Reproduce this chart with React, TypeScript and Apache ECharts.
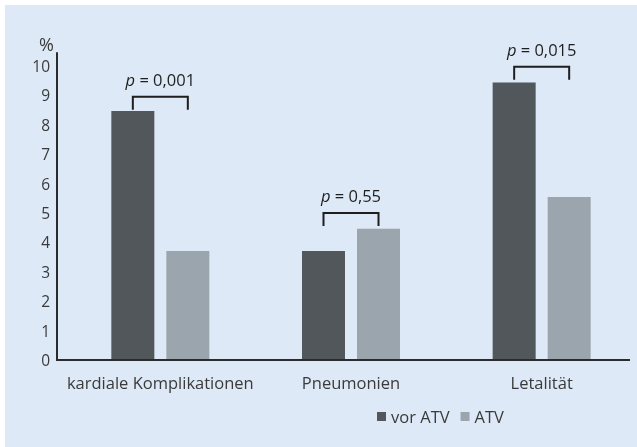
import React, { useEffect, useRef } from "react";
import * as echarts from "echarts";

const categories = ["kardiale Komplikationen", "Pneumonien", "Letalität"];
const vorATV = [8.47, 3.71, 9.44];
const atv = [3.71, 4.46, 5.54];
const bracketTop = [8.95, 5.0, 9.97];
const pTexts = ["0,001", "0,55", "0,015"];
const seriesNames = ["vor ATV", "ATV"];

const BAR_W = 43;
const GAP = 12;

export default function App() {
  const ref = useRef<HTMLDivElement>(null);
  useEffect(() => {
    if (!ref.current) return;
    const chart = echarts.init(ref.current, null, { renderer: "svg" });
    const font = "'Open Sans', sans-serif";
    chart.setOption({
      animation: false,
      backgroundColor: "transparent",
      textStyle: { fontFamily: font },
      graphic: [
        {
          type: "rect",
          z: -10,
          silent: true,
          shape: { x: 5, y: 5, width: 632, height: 442 },
          style: { fill: "#dde9f6" },
        },
        {
          type: "line",
          z: 10,
          silent: true,
          shape: { x1: 56, y1: 360, x2: 630, y2: 360 },
          style: { stroke: "#2b2b2b", lineWidth: 2 },
        },
      ],
      grid: { left: 65, right: -5, top: 53, bottom: 87 },
      legend: {
        data: seriesNames,
        left: 372,
        top: 403,
        itemWidth: 9,
        itemHeight: 9,
        itemGap: 11,
        icon: "rect",
        textStyle: { fontSize: 16.5, color: "#3a3a3a", fontFamily: font },
      },
      xAxis: {
        type: "category",
        data: categories,
        axisLine: { show: false },
        axisTick: { show: false },
        axisLabel: { interval: 0, fontSize: 16.5, color: "#3a3a3a", margin: 14, fontFamily: font },
      },
      yAxis: {
        type: "value",
        min: 0,
        max: 10.44,
        interval: 1,
        offset: 8,
        name: "%",
        nameLocation: "end",
        nameGap: 0,
        nameTextStyle: { fontSize: 18, color: "#3a3a3a", align: "right", padding: [0, 3, 0, 0] },
        axisLine: { show: true, lineStyle: { color: "#2b2b2b", width: 2 } },
        axisTick: { show: false },
        splitLine: { show: false },
        axisLabel: {
          fontSize: 15.5,
          color: "#3a3a3a",
          margin: 7,
          formatter: (v: number) => (Number.isInteger(v) ? String(v) : ""),
        },
      },
      series: [
        {
          name: seriesNames[0],
          type: "bar",
          data: vorATV,
          barWidth: BAR_W,
          barGap: (GAP / BAR_W) * 100 + "%",
          itemStyle: { color: "#52575c" },
        },
        {
          name: seriesNames[1],
          type: "bar",
          data: atv,
          barWidth: BAR_W,
          itemStyle: { color: "#9ba5ad" },
        },
        {
          type: "custom",
          data: bracketTop.map((v, i) => [i, v]),
          z: 5,
          renderItem: (params: any, api: any) => {
            const idx = api.value(0);
            const p = api.coord([idx, api.value(1)]);
            const off = (BAR_W + GAP) / 2;
            const x1 = p[0] - off;
            const x2 = p[0] + off;
            const y = p[1];
            return {
              type: "group",
              children: [
                {
                  type: "polyline",
                  shape: {
                    points: [
                      [x1, y + 13],
                      [x1, y],
                      [x2, y],
                      [x2, y + 13],
                    ],
                  },
                  style: { stroke: "#1e1e1e", lineWidth: 2, fill: "none" },
                },
                {
                  type: "text",
                  x: p[0],
                  y: y - 17,
                  style: {
                    text: "{i|p} = " + pTexts[params.dataIndex],
                    align: "center",
                    verticalAlign: "middle",
                    fontSize: 16.5,
                    fontFamily: font,
                    fill: "#1e1e1e",
                    rich: {
                      i: { fontStyle: "italic", fontSize: 16.5, fontFamily: font, fill: "#1e1e1e" },
                    },
                  },
                },
              ],
            };
          },
        },
      ],
    });
    return () => chart.dispose();
  }, []);
  return (
    <div
      ref={ref}
      style={{ position: "fixed", left: 0, top: 0, width: 637, height: 447 }}
    />
  );
}
